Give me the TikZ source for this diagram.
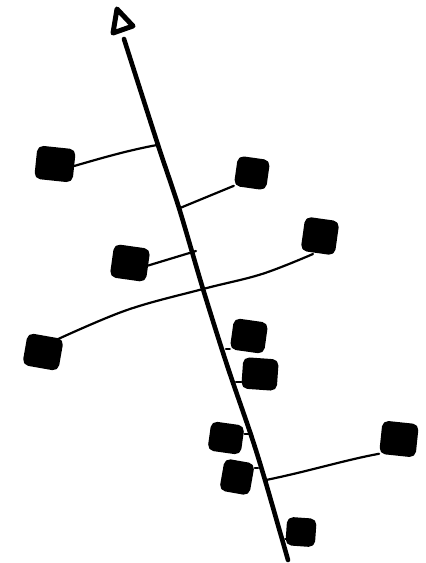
\documentclass[tikz,border=0pt]{standalone}
\begin{document}
\begin{tikzpicture}[x=1pt,y=-1pt,
  blk/.style={fill=black,draw=black,line width=2.5pt,rounded corners=5pt,inner sep=0pt,line join=round},
  mainln/.style={line width=4.6pt,line cap=round},
  conn/.style={line width=2.2pt,line cap=round},
  tick/.style={line width=2.6pt,line cap=round}]
\useasboundingbox (0,0) rectangle (426,563);
% arrowhead (open triangle)
\coordinate (t1) at (117,9);
\coordinate (t2) at (113,33);
\coordinate (t3) at (133,26);
\draw[line width=5pt,line join=round] (t1) -- (t2) -- (t3) -- cycle;
% main line
\draw[mainln] plot[smooth,tension=0.5] coordinates {(124,39) (158,145) (179,208) (203,289) (227,365) (251,435) (265,480) (288,560)};
% attach points on main line
\coordinate (a1) at (157,145);
\coordinate (a2) at (180,208);
\coordinate (a3) at (196,251);
\coordinate (a4) at (203,289);
\coordinate (a5) at (226,349);
\coordinate (a6) at (236,382);
\coordinate (a7) at (250,434);
\coordinate (a8) at (258,468);
\coordinate (a9) at (266,480);
\coordinate (a10) at (286,539);
% squares
\node[blk,minimum width=36pt,minimum height=31pt,rotate=-6] (s1) at (55,164) {};
\node[blk,minimum width=30pt,minimum height=28pt,rotate=-8] (s2) at (252,173) {};
\node[blk,minimum width=34pt,minimum height=31pt,rotate=-8] (s3) at (130,263) {};
\node[blk,minimum width=32pt,minimum height=32pt,rotate=-8] (s4) at (320,236) {};
\node[blk,minimum width=34pt,minimum height=30pt,rotate=-10] (s5) at (43,352) {};
\node[blk,minimum width=32pt,minimum height=29pt,rotate=-8] (s6) at (249,336) {};
\node[blk,minimum width=33pt,minimum height=29pt,rotate=-4] (s7) at (260,374) {};
\node[blk,minimum width=31pt,minimum height=27pt,rotate=-8] (s8) at (226,438) {};
\node[blk,minimum width=28pt,minimum height=30pt,rotate=-10] (s9) at (237,477) {};
\node[blk,minimum width=34pt,minimum height=31pt,rotate=-6] (s10) at (399,439) {};
\node[blk,minimum width=27pt,minimum height=26pt,rotate=-4] (s11) at (301,532) {};
% connectors
\draw[conn] (s1.east) .. controls (105,157) and (130,150) .. (a1);
\draw[conn] (a2) -- (s2.south west);
\draw[conn] (s3.east) -- (a3);
\draw[conn] plot[smooth,tension=0.6] coordinates {(313,254) (262,274) (a4) (127,310) (56,340)};
\draw[tick] (a5) -- (a5 -| s6.south west);
\draw[tick] (a6) -- (a6 -| s7.south west);
\draw[tick] (a7 -| s8.north east) -- (a7);
\draw[tick] (a8 -| s9.north east) -- (a8);
\draw[conn] (a9) .. controls (310,471) and (345,460) .. (s10.south west);
\draw[tick] (a10) -- (a10 -| s11.south west);
\end{tikzpicture}
\end{document}
